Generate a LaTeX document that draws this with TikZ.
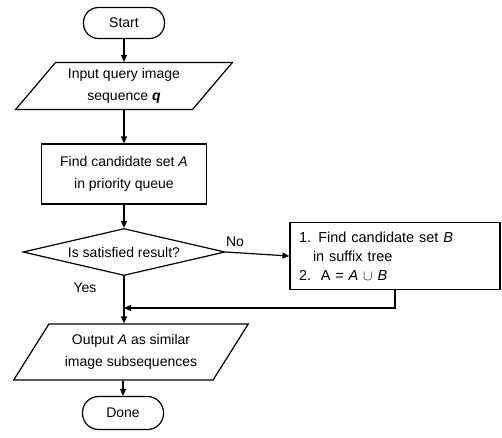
\documentclass[tikz,border=0pt]{standalone}
\usepackage{fontspec}
\setmainfont{Liberation Sans}
\usetikzlibrary{shapes.geometric,arrows.meta}

\begin{document}
\begin{tikzpicture}[x=1pt,y=-1pt,
  every node/.style={inner sep=0pt,font=\fontsize{14pt}{22pt}\selectfont},
  flowline/.style={line width=1.2pt},
  arrowline/.style={flowline,-{Triangle[length=7pt,width=6pt]}},
  terminal/.style={draw,line width=1.2pt,rounded corners=15pt,minimum width=81pt,minimum height=31pt},
  iobox/.style={draw,line width=1.2pt,trapezium,trapezium stretches=true,align=center},
  procbox/.style={draw,line width=1.2pt,rectangle},
  decision/.style={draw,line width=1.2pt,diamond,aspect=4,minimum width=202pt,minimum height=47pt}]
\useasboundingbox (0,0) rectangle (502,437);
\node [terminal] (start) at (124,23) {Start};
\node [iobox,trapezium left angle=47,trapezium right angle=133,minimum width=217pt,minimum height=47pt]
  (input) at (124,86) {Input query image\\sequence \textbf{\textit{q}}};
\node [procbox,minimum width=165pt,minimum height=60pt,align=center]
  (finda) at (124,174) {Find candidate set \textit{A}\\in priority queue};
\node [decision] (sat) at (124,252) {Is satisfied result?};
\node [procbox,minimum width=210pt,minimum height=67pt,align=left,text width=192pt,
  font=\fontsize{14.5pt}{19pt}\selectfont]
  (findb) at (395,256) {1. Find candidate set \textit{B}\\\hspace*{14pt}in suffix tree\\2.\ \ A = \textit{A} $\cup$ \textit{B}};
\node [iobox,trapezium left angle=51,trapezium right angle=129,minimum width=235pt,minimum height=56pt]
  (output) at (131,352) {Output \textit{A} as similar\\image subsequences};
\node [terminal,minimum height=33pt,rounded corners=16pt] (done) at (123,413) {Done};
\node (no) at (235,242) {No};
\node (yes) at (85,288) {Yes};
\coordinate (join) at (124,308);
\draw [arrowline] (start) -- (start |- input.north);
\draw [arrowline] (input.south -| start) -- (finda);
\draw [arrowline] (finda) -- (sat);
\draw [arrowline] (sat.east) -- (findb.west);
\draw [arrowline] (findb.south) |- (join);
\draw [arrowline] (sat.south) -- (sat.south |- output.north);
\draw [arrowline] (output.south -| done) -- (done);
\end{tikzpicture}
\end{document}
